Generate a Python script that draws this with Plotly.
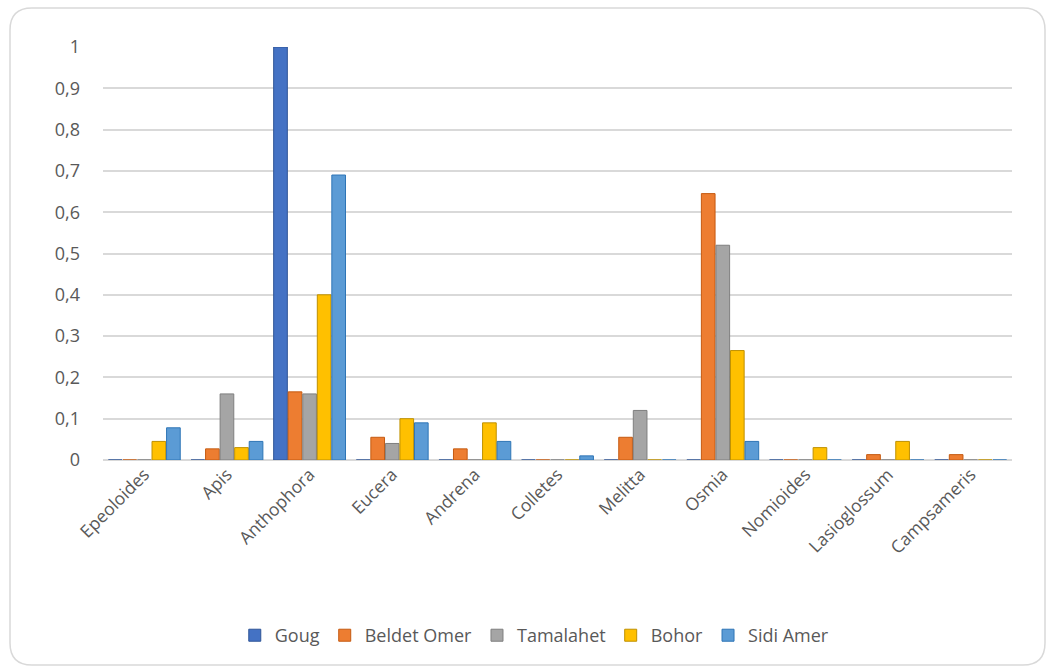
import plotly.graph_objects as go

categories = ["Epeoloides", "Apis", "Anthophora", "Eucera", "Andrena", "Colletes",
              "Melitta", "Osmia", "Nomioides", "Lasioglossum", "Campsameris"]
goug = [0, 0, 1.0, 0, 0, 0, 0, 0, 0, 0, 0]
beldet_omer = [0, 0.027, 0.165, 0.055, 0.027, 0, 0.055, 0.645, 0, 0.013, 0.013]
tamalahet = [0, 0.16, 0.16, 0.04, 0, 0, 0.12, 0.52, 0, 0, 0]
bohor = [0.045, 0.03, 0.40, 0.10, 0.09, 0, 0, 0.265, 0.03, 0.045, 0]
sidi_amer = [0.078, 0.045, 0.69, 0.09, 0.045, 0.01, 0, 0.045, 0, 0, 0]
tick_vals = [0, 0.1, 0.2, 0.3, 0.4, 0.5, 0.6, 0.7, 0.8, 0.9, 1]

series = [
    ("Goug", goug, "#4472C4", "#2F5597"),
    ("Beldet Omer", beldet_omer, "#ED7D31", "#C55A11"),
    ("Tamalahet", tamalahet, "#A5A5A5", "#7F7F7F"),
    ("Bohor", bohor, "#FFC000", "#BF9000"),
    ("Sidi Amer", sidi_amer, "#5B9BD5", "#2E75B6"),
]

fig = go.Figure()
for name, vals, col, edge in series:
    fig.add_trace(go.Bar(
        x=categories, y=vals, name=name,
        marker=dict(color=col, line=dict(color=edge, width=1)),
    ))

W, H = 1054, 672
L, R, T, B = 103, 42, 47, 212
pw, ph = W - L - R, H - T - B

def px_to_paper(x, y):
    return (x - L) / pw, (H - B - y) / ph

# rounded border around the chart area
x0, y0, x1, y1, r = 10, 8, 1045, 665, 22
def P(x, y):
    a, b = px_to_paper(x, y)
    return f"{a:.5f},{b:.5f}"
path = (f"M {P(x0 + r, y0)} L {P(x1 - r, y0)} Q {P(x1, y0)} {P(x1, y0 + r)} "
        f"L {P(x1, y1 - r)} Q {P(x1, y1)} {P(x1 - r, y1)} "
        f"L {P(x0 + r, y1)} Q {P(x0, y1)} {P(x0, y1 - r)} "
        f"L {P(x0, y0 + r)} Q {P(x0, y0)} {P(x0 + r, y0)} Z")

fig.update_layout(
    width=W, height=H,
    margin=dict(l=L, r=R, t=T, b=B),
    paper_bgcolor="white", plot_bgcolor="white",
    separators=", ",
    barmode="group", bargap=0.12, bargroupgap=0.06,
    font=dict(family="Open Sans, Segoe UI, sans-serif", color="#595959", size=17),
    showlegend=True,
    legend=dict(orientation="h", x=0.475, xanchor="center", y=-0.425, yanchor="middle",
                font=dict(size=18, color="#595959"), traceorder="normal",
                itemwidth=30),
    shapes=[dict(type="path", path=path, xref="paper", yref="paper",
                 line=dict(color="#D9D9D9", width=1.5), layer="below")],
    xaxis=dict(tickangle=-45, showgrid=False, showline=False, ticks="",
               tickfont=dict(size=17.5, color="#595959")),
    yaxis=dict(range=[0, 1], tickvals=tick_vals, showgrid=True, gridcolor="#D9D9D9",
               gridwidth=1.5, zeroline=True, zerolinecolor="#D9D9D9", zerolinewidth=1.5,
               showline=False, ticks="", ticklabelstandoff=22,
               tickfont=dict(size=18, color="#595959")),
)

fig.write_html("out.html")
